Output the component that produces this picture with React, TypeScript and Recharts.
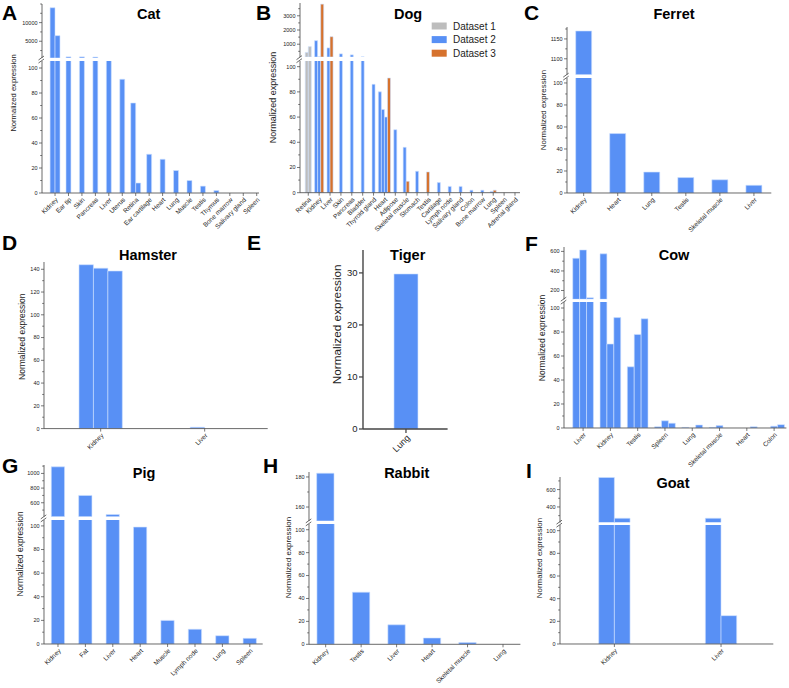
import React from "react";
import { BarChart, Bar, XAxis, YAxis, Cell } from "recharts";

const FONT = "'Liberation Sans', Arial, sans-serif";
const AXIS = "#444";
const TXT = "#222";
const EDGE = "#cfe0ff";
const SET_COLORS = ["#bdbdbd", "#5890f5", "#d6722d"];
const SET_NAMES = ["Dataset 1", "Dataset 2", "Dataset 3"];

// ---- data ----
const pctTicks = [0, 20, 40, 60, 80, 100];
const hamsterTicks = [0, 20, 40, 60, 80, 100, 120, 140];
const tigerTicks = [0, 10, 20, 30];

const catTissues = ["Kidney", "Ear tip", "Skin", "Pancreas", "Liver", "Uterus", "Retina", "Ear cartilage", "Heart", "Lung", "Muscle", "Testis", "Thymus", "Bone marrow", "Salivary gland", "Spleen"];
const catValues = [[14000, 6500], [800], [800], [750], [300], [91], [72, 8], [31], [27], [18], [10], [5.5], [2], [0], [0], [0]];
const catTopTicks = [5000, 10000];

const dogTissues = ["Retina", "Kidney", "Liver", "Skin", "Pancreas", "Bladder", "Thyroid gland", "Heart", "Adipose", "Skeletal muscle", "Stomach", "Testis", "Cartilage", "Lymph node", "Salivary gland", "Colon", "Bone marrow", "Lung", "Spleen", "Adrenal gland"];
const dogValues = [[420, 830], [1250, 110, 3820], [740, 1530], [320], [250], [110], [86], [80, 66, 60, 91], [50], [36, 9], [17], [16.5], [8], [5], [5], [2], [2], [1, 2], [0], [0]];
const dogSets = [[0, 0], [1, 1, 2], [1, 2], [1], [1], [1], [1], [1, 1, 1, 2], [1], [1, 2], [1], [2], [1], [1], [1], [1], [1], [1, 2], [1], [1]];
const dogTopTicks = [1000, 2000, 3000];

const ferretTissues = ["Kidney", "Heart", "Lung", "Testis", "Skeletal muscle", "Liver"];
const ferretValues = [[1170], [54], [19], [14], [12], [7]];
const ferretTopTicks = [1100, 1150];

const hamsterTissues = ["Kidney", "Liver"];
const hamsterValues = [[144, 141, 138.5], [1.2, 0]];

const tigerTissues = ["Lung"];
const tigerValues = [[29.8]];

const cowTissues = ["Liver", "Kidney", "Testis", "Spleen", "Lung", "Skeletal muscle", "Heart", "Colon"];
const cowValues = [[530, 615, 125], [575, 70, 92], [51, 78, 91], [1, 6, 4], [0.5, 0, 2.5], [0.5, 2, 0], [0, 0, 1], [0, 1.5, 2.8]];
const cowTopTicks = [200, 400, 600];

const pigTissues = ["Kidney", "Fat", "Liver", "Heart", "Muscle", "Lymph node", "Lung", "Spleen"];
const pigValues = [[1090], [700], [440], [99], [20], [12.5], [7], [4.8]];
const pigTopTicks = [600, 800, 1000];

const rabbitTissues = ["Kidney", "Testis", "Liver", "Heart", "Skeletal muscle", "Lung"];
const rabbitValues = [[182.5], [45.5], [17], [5.5], [1.5], [0]];
const rabbitTopTicks = [160, 180];

const goatTissues = ["Kidney", "Liver"];
const goatValues = [[740, 270], [270, 25]];
const goatTopTicks = [400, 600];

// ---- layout ----
type Seg = { y0: number; y1: number; lo: number; hi: number; ticks: number[]; minor: number };
type Cfg = {
  id: string;
  cats: string[];
  values: number[][];
  sets?: number[][];
  axisX: number;
  axisEnd: number;
  xMin: number;
  xMax: number;
  slot: number;
  top?: Seg;
  bottom: Seg;
  yFont: number;
  xFont: number;
  lw: number;
  tl: number;
};

const Y_W = 36;
const X_H = 60;

const panels: Cfg[] = [
  { id: "cat", cats: catTissues, values: catValues, axisX: 42, axisEnd: 259, xMin: -0.97, xMax: 15.17, slot: 0.37,
    top: { y0: 4, y1: 58, lo: 500, hi: 15000, ticks: catTopTicks, minor: 2500 },
    bottom: { y0: 61, y1: 193, lo: 0, hi: 105.6, ticks: pctTicks, minor: 10 }, yFont: 5.5, xFont: 6.5, lw: 0.8, tl: 3 },
  { id: "dog", cats: dogTissues, values: dogValues, sets: dogSets, axisX: 300, axisEnd: 520, xMin: -0.76, xMax: 19.46, slot: 0.28,
    top: { y0: 3.3, y1: 57.3, lo: 100, hi: 3900, ticks: dogTopTicks, minor: 500 },
    bottom: { y0: 61, y1: 192.7, lo: 0, hi: 104.5, ticks: pctTicks, minor: 10 }, yFont: 5.5, xFont: 6.5, lw: 0.8, tl: 3 },
  { id: "ferret", cats: ferretTissues, values: ferretValues, axisX: 566.7, axisEnd: 771, xMin: -0.49, xMax: 5.51, slot: 0.47,
    top: { y0: 27.3, y1: 75, lo: 1060, hi: 1180, ticks: ferretTopTicks, minor: 25 },
    bottom: { y0: 78.3, y1: 193.3, lo: 0, hi: 104.5, ticks: pctTicks, minor: 10 }, yFont: 5.5, xFont: 6.5, lw: 0.8, tl: 3 },
  { id: "hamster", cats: hamsterTissues, values: hamsterValues, axisX: 44.3, axisEnd: 268, xMin: -0.545, xMax: 1.606, slot: 0.139,
    bottom: { y0: 261.7, y1: 428.3, lo: 0, hi: 146.4, ticks: hamsterTicks, minor: 10 }, yFont: 5.5, xFont: 6.5, lw: 0.8, tl: 3 },
  { id: "tiger", cats: tigerTissues, values: tigerValues, axisX: 362.7, axisEnd: 447.3, xMin: -0.508, xMax: 0.492, slot: 0.284,
    bottom: { y0: 250, y1: 429, lo: 0, hi: 34.4, ticks: tigerTicks, minor: 0 }, yFont: 9.5, xFont: 9, lw: 1.4, tl: 4 },
  { id: "cow", cats: cowTissues, values: cowValues, axisX: 564.3, axisEnd: 786.7, xMin: -0.7, xMax: 7.45, slot: 0.253,
    top: { y0: 246.7, y1: 299, lo: 110, hi: 645, ticks: cowTopTicks, minor: 100 },
    bottom: { y0: 302.3, y1: 428.3, lo: 0, hi: 105, ticks: pctTicks, minor: 10 }, yFont: 5.5, xFont: 6.5, lw: 0.8, tl: 3 },
  { id: "pig", cats: pigTissues, values: pigValues, axisX: 44.3, axisEnd: 263, xMin: -0.51, xMax: 7.47, slot: 0.485,
    top: { y0: 465, y1: 516.7, lo: 410, hi: 1115, ticks: pigTopTicks, minor: 100 },
    bottom: { y0: 520, y1: 644, lo: 0, hi: 105, ticks: pctTicks, minor: 10 }, yFont: 5.5, xFont: 6.5, lw: 0.8, tl: 3 },
  { id: "rabbit", cats: rabbitTissues, values: rabbitValues, axisX: 309.3, axisEnd: 520.7, xMin: -0.47, xMax: 5.49, slot: 0.49,
    top: { y0: 471.7, y1: 520.7, lo: 150.7, hi: 183.3, ticks: rabbitTopTicks, minor: 10 },
    bottom: { y0: 524, y1: 644.3, lo: 0, hi: 105, ticks: pctTicks, minor: 10 }, yFont: 5.5, xFont: 6.5, lw: 0.8, tl: 3 },
  { id: "goat", cats: goatTissues, values: goatValues, axisX: 560, axisEnd: 773.3, xMin: -0.51, xMax: 1.49, slot: 0.147,
    top: { y0: 476.7, y1: 522.3, lo: 220, hi: 745, ticks: goatTopTicks, minor: 100 },
    bottom: { y0: 525, y1: 644, lo: 0, hi: 105, ticks: pctTicks, minor: 10 }, yFont: 5.5, xFont: 6.5, lw: 0.8, tl: 3 },
];

// panel letters, titles and y labels (x, y positions on the page)
const letters = [["A", 2, 20], ["B", 256, 20], ["C", 524, 20], ["D", 2, 250], ["E", 247, 250], ["F", 525, 251], ["G", 2, 473], ["H", 263, 473], ["I", 526, 478]] as const;
const titles = [["Cat", 148.7, 18.5], ["Dog", 408, 19], ["Ferret", 674, 18.5], ["Hamster", 148, 260], ["Tiger", 407.7, 260], ["Cow", 674, 260], ["Pig", 144, 478], ["Rabbit", 406.7, 478], ["Goat", 673, 488]] as const;
const yLabels = [[13.3, 93, 7.6], [273, 97.5, 9], [543, 110, 7.9], [22, 336.7, 8.5], [336.7, 324.3, 11.8], [541.7, 338, 8.5], [20, 554, 8.4], [288.3, 557.5, 8], [539, 558, 7.9]] as const;

function segTicks(s: Seg) {
  const out: number[] = [];
  if (s.minor > 0) {
    for (let v = Math.ceil(s.lo / s.minor) * s.minor; v <= s.hi + 1e-9; v += s.minor) out.push(+v.toFixed(6));
  }
  s.ticks.forEach((t) => {
    if (!out.includes(t)) out.push(t);
  });
  return out.sort((a, b) => a - b);
}

function YTick(props: any) {
  const { x, y, payload, majors, fs, tl, lw } = props;
  const major = majors.includes(payload.value);
  return (
    <g>
      <line x1={x - (major ? tl : tl * 0.6)} x2={x} y1={y} y2={y} stroke={AXIS} strokeWidth={lw * 0.9} />
      {major && (
        <text x={x - tl - 1.5} y={y} dy="0.35em" textAnchor="end" fontSize={fs} fill={TXT} fontFamily={FONT}>
          {payload.value}
        </text>
      )}
    </g>
  );
}

function SegChart({ cfg, s, showX, data, barPx }: { cfg: Cfg; s: Seg; showX: boolean; data: any[]; barPx: number }) {
  const left = cfg.axisX - Y_W;
  const width = cfg.axisEnd - left + 3;
  const h = s.y1 - s.y0;
  return (
    <div style={{ position: "absolute", left, top: s.y0 }}>
      <BarChart width={width} height={h + (showX ? X_H : 0)} data={data} margin={{ top: 0, right: 3, bottom: 0, left: 0 }}>
        <XAxis
          hide={!showX}
          type="number"
          dataKey="pos"
          domain={[cfg.xMin, cfg.xMax]}
          allowDataOverflow
          ticks={cfg.cats.map((_, i) => i)}
          interval={0}
          height={X_H}
          tickSize={cfg.tl}
          tickMargin={1}
          axisLine={{ stroke: AXIS, strokeWidth: cfg.lw }}
          tickLine={{ stroke: AXIS, strokeWidth: cfg.lw * 0.9 }}
          tickFormatter={(v: number) => cfg.cats[Math.round(v)]}
          tick={{ angle: -45, textAnchor: "end", verticalAnchor: "middle", fontSize: cfg.xFont, fill: TXT, fontFamily: FONT }}
        />
        <YAxis
          width={Y_W}
          domain={[s.lo, s.hi]}
          allowDataOverflow
          ticks={segTicks(s)}
          interval={0}
          tickSize={0}
          tickMargin={0}
          tickLine={false}
          axisLine={{ stroke: AXIS, strokeWidth: cfg.lw }}
          tick={(p: any) => <YTick {...p} majors={s.ticks} fs={cfg.yFont} tl={cfg.tl} lw={cfg.lw} />}
        />
        <Bar dataKey="value" isAnimationActive={false} barSize={barPx} stroke={EDGE} strokeWidth={0.6}>
          {data.map((d, i) => (
            <Cell key={i} fill={d.fill} />
          ))}
        </Bar>
      </BarChart>
    </div>
  );
}

function Panel({ cfg }: { cfg: Cfg }) {
  const pxPerCat = (cfg.axisEnd - cfg.axisX) / (cfg.xMax - cfg.xMin);
  const barPx = cfg.slot * pxPerCat - 0.02;
  const points = cfg.values
    .flatMap((vals, i) =>
      vals.map((v, j) => ({
        pos: i + (j - (vals.length - 1) / 2) * cfg.slot,
        value: v,
        fill: SET_COLORS[cfg.sets ? cfg.sets[i][j] : 1],
      }))
    )
    .filter((d) => d.value > 0);
  return (
    <>
      {cfg.top && (
        <SegChart cfg={cfg} s={cfg.top} showX={false} data={points.filter((d) => d.value > cfg.top!.lo)} barPx={barPx} />
      )}
      <SegChart cfg={cfg} s={cfg.bottom} showX data={points} barPx={barPx} />
    </>
  );
}

export default function App() {
  return (
    <div style={{ position: "absolute", left: 0, top: 0, width: 789, height: 688, background: "#fff", overflow: "hidden" }}>
      <style>{`.recharts-surface{overflow:visible}`}</style>
      {panels.map((p) => (
        <Panel key={p.id} cfg={p} />
      ))}
      <svg width={789} height={688} style={{ position: "absolute", left: 0, top: 0, pointerEvents: "none" }} fontFamily={FONT}>
        {letters.map(([t, x, y]) => (
          <text key={t} x={x} y={y} fontSize={21} fontWeight="bold" fill="#000">
            {t}
          </text>
        ))}
        {titles.map(([t, x, y]) => (
          <text key={t} x={x} y={y} fontSize={14.5} fontWeight="bold" textAnchor="middle" fill="#000">
            {t}
          </text>
        ))}
        {yLabels.map(([x, y, fs], i) => (
          <text key={i} x={x} y={y} fontSize={fs} textAnchor="middle" dominantBaseline="central" transform={`rotate(-90 ${x} ${y})`} fill={TXT}>
            Normalized expression
          </text>
        ))}
        {panels
          .filter((p) => p.top)
          .map((p) => {
            const mid = (p.top!.y1 + p.bottom.y0) / 2;
            return (
              <g key={p.id} stroke={AXIS} strokeWidth={0.8}>
                <line x1={p.axisX - 3.5} y1={mid + 0.5} x2={p.axisX + 2} y2={mid - 3.5} />
                <line x1={p.axisX - 3.5} y1={mid + 3.5} x2={p.axisX + 2} y2={mid - 0.5} />
              </g>
            );
          })}
        {SET_NAMES.map((n, i) => (
          <g key={n}>
            <rect x={431.7} y={22.5 + i * 13.6} width={15} height={7} fill={SET_COLORS[i]} />
            <text x={453} y={29.5 + i * 13.6} fontSize={10} fill={TXT}>
              {n}
            </text>
          </g>
        ))}
      </svg>
    </div>
  );
}
